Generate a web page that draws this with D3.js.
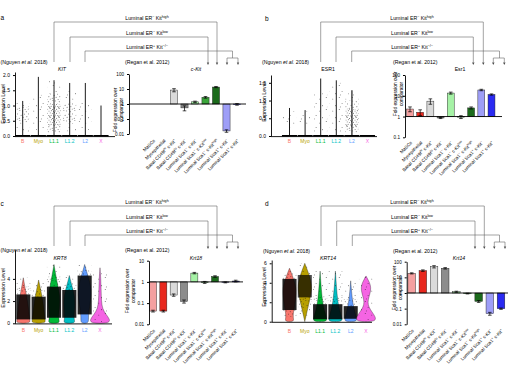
<!DOCTYPE html>
<html>
<head>
<meta charset="utf-8">
<script src="https://cdn.jsdelivr.net/npm/d3@7"></script>
<style>
  body { margin: 0; background: #fff; }
  svg text { font-family: "Liberation Sans", Arial, sans-serif; }
</style>
</head>
<body>
<svg id="fig" width="509" height="373"></svg>
<script>
// single cell clusters (Nguyen et al. 2018)
const scCats = ["B", "Myo", "L1.1", "L1.2", "L2", "X"];
const scColors = ["#F8766D", "#B79F00", "#00BA38", "#00BFC4", "#619CFF", "#F564E3"];

// sorted populations (Regan et al. 2012)
const popLabels = [
  "MaSCs", "Myoepithelial",
  "Basal CD49f^{hi} c-Kit^{+}", "Basal CD49f^{lo} c-Kit^{−}",
  "Luminal Sca1^{−} c-Kit^{−}", "Luminal Sca1^{−} c-Kit^{low}", "Luminal Sca1^{−} c-Kit^{high}",
  "Luminal Sca1^{+} c-Kit^{−}", "Luminal Sca1^{+} c-Kit^{+}"
];
const popColors = ["#F4A0A0", "#E8281E", "#DADADA", "#8C8C8C", "#A6F2A6", "#3AA53A", "#1C6B1C", "#9E9EF7", "#2A2AF2"];
const bracketLabels = ["Luminal ER^{−} Kit^{high}", "Luminal ER^{−} Kit^{low}", "Luminal ER^{+} Kit^{−/−}"];

// KIT / c-Kit
const kitTop = [1.15, 1.94, 1.83, 1.74, 1.74, 1.0];
// jitter bands per cluster: [from, to, density level]
const kitBands = [
  [[0.1, 0.45, 1], [0.45, 0.95, 2], [0.95, 1.12, 1]],
  [[0.2, 1.35, 1]],
  [[0.1, 0.35, 2], [0.35, 1.05, 3], [1.05, 1.4, 2], [1.4, 1.8, 1]],
  [[0.15, 0.4, 1], [0.4, 1.1, 2], [1.1, 1.5, 1]],
  [[0.2, 1.1, 1]],
  []
];
const ckitFold = [null, null, 8.5, 0.55, 1.4, 2.8, 13.5, 0.016, 0.95];
const ckitErr = [0, 0, 2.0, 0.2, 0.15, 0.35, 1.2, 0.003, 0.12];

// ESR1 / Esr1
const esr1Top = [0.79, 0.73, 1.62, 1.57, 1.29, 0];
const esr1Bands = [
  [[0.25, 0.7, 1]],
  [[0.3, 0.7, 1]],
  [[0.1, 1.2, 1]],
  [[0.1, 1.5, 1]],
  [[0.1, 0.25, 2], [0.25, 0.75, 3], [0.75, 1.0, 2], [1.0, 1.2, 1]],
  []
];
const esr1Fold = [2.3, 1.6, 5.5, 0.85, 13.5, 0.95, 2.6, 19, 11.5];
const esr1Err = [0.6, 0.5, 1.6, 0.05, 1.5, 0.15, 0.3, 1.5, 0.8];

// KRT8 / Krt18 ; violin outline = [value, relative width]
const krt8Violin = [
  [[0, 0], [0.05, 1], [0.3, 0.9], [1, 0.8], [2, 0.6], [3, 0.3], [4.1, 0]],
  [[0, 0], [0.05, 1], [0.3, 0.9], [1, 0.8], [2, 0.6], [3, 0.3], [3.9, 0]],
  [[0, 0], [0.05, 0.9], [0.4, 0.6], [1.5, 0.8], [2.5, 0.85], [3.5, 0.5], [5.3, 0]],
  [[0, 0], [0.05, 0.9], [0.4, 0.6], [1.5, 0.8], [2.5, 0.75], [3.3, 0.4], [4.3, 0]],
  [[0, 0], [0.05, 0.6], [0.6, 0.5], [1.5, 0.7], [2.5, 0.95], [3.5, 0.85], [4.5, 0.35], [5.3, 0]],
  [[0, 0], [0.05, 1.4], [0.4, 1.35], [0.8, 0.85], [1.3, 0.35], [2, 0.2], [3, 0.16], [4, 0.12], [5.0, 0]]
];
const krt8Bands = [
  [[0.35, 2.6, 4], [2.6, 3.3, 2], [3.3, 4.1, 1]],
  [[0.35, 2.4, 4], [2.4, 3.0, 2], [3.0, 3.9, 1]],
  [[0.5, 3.3, 4], [3.3, 4.2, 2], [4.2, 5.3, 1]],
  [[0.5, 3.0, 4], [3.0, 3.7, 2], [3.7, 4.3, 1]],
  [[0.8, 4.3, 4], [4.3, 4.8, 2], [4.8, 5.3, 1]],
  [[0.1, 4.5, 1]]
];
const krt18Fold = [0.042, 0.042, 0.24, 0.12, 2.6, 0.95, 1.8, 0.95, 1.1];
const krt18Err = [0.004, 0.004, 0.03, 0.02, 0.2, 0.1, 0.15, 0.05, 0.1];

// KRT14 / Krt14
const krt14Violin = [
  [[0, 0], [0.05, 0.7], [0.5, 0.45], [1.5, 0.7], [3, 1], [4, 0.8], [5.5, 0]],
  [[0, 0], [1, 0.3], [2.5, 0.8], [3.5, 1], [4.5, 0.8], [6, 0]],
  [[0, 0], [0.05, 1], [0.4, 0.9], [1, 0.7], [2, 0.3], [5.2, 0]],
  [[0, 0], [0.05, 1], [0.4, 0.9], [1, 0.7], [2, 0.3], [5.2, 0]],
  [[0, 0], [0.05, 0.9], [0.4, 0.8], [1, 0.6], [2, 0.25], [4.2, 0]],
  [[0, 0], [0.05, 1.4], [0.5, 1.35], [1, 0.85], [1.5, 0.4], [2, 0.25], [2.5, 0.4], [3.2, 0.7], [3.8, 0.65], [4.3, 0.3], [4.7, 0]]
];
const krt14Bands = [
  [[0.5, 1.2, 2], [1.2, 4.4, 4], [4.4, 5.0, 2], [5.0, 5.5, 1]],
  [[0.3, 1.5, 1], [1.5, 2.5, 2], [2.5, 4.8, 5], [4.8, 6, 1]],
  [[0.25, 1.8, 4], [1.8, 2.6, 2], [2.6, 5.2, 1]],
  [[0.25, 1.8, 4], [1.8, 2.6, 2], [2.6, 5.2, 1]],
  [[0.3, 1.6, 4], [1.6, 2.3, 2], [2.3, 4.2, 1]],
  [[0.1, 4.7, 1]]
];
const krt14Fold = [18, 27, 48, 38, 1.2, 0.92, 0.29, 0.048, 0.1];
const krt14Err = [1.5, 3, 8, 4, 0.1, 0.05, 0.04, 0.01, 0.01];

const svg = d3.select("#fig");
const defs = svg.append("defs");

// dot textures standing in for jittered cells
function dotPattern(id, w, h, dots) {
  const p = defs.append("pattern").attr("id", id)
    .attr("patternUnits", "userSpaceOnUse").attr("width", w).attr("height", h);
  dots.forEach(d => p.append("circle").attr("cx", d[0]).attr("cy", d[1]).attr("r", 0.45).attr("fill", "#111"));
}
dotPattern("p1", 13, 12, [[1.2, 1.5], [7.8, 3.1], [4.1, 7.4], [10.6, 9.8], [2.3, 10.9]]);
dotPattern("p2", 11, 10, [[0.7, 0.9], [4.2, 1.8], [8.9, 0.6], [2.4, 4.1], [6.6, 3.9], [10.1, 5.2],
  [1.1, 7.2], [4.9, 6.8], [8.2, 8.3], [3.1, 9.4], [6.2, 9.1]]);
dotPattern("p3", 9, 9, [[0.5, 0.6], [2.7, 1.2], [5.1, 0.4], [7.6, 1.5], [1.4, 2.9], [4.0, 3.1],
  [6.3, 2.7], [8.4, 3.6], [0.4, 4.8], [2.6, 5.3], [5.2, 4.9], [7.3, 5.6], [1.5, 7.1], [3.9, 7.5],
  [6.1, 7.2], [8.5, 7.9], [0.8, 8.7], [4.8, 8.6]]);
const bandFill = [null, "url(#p1)", "url(#p2)", "url(#p3)", "#000", "#000"];
const bandOpacity = [1, 1, 1, 1, 0.86, 0.7];

// text with ^{superscripts}
function rich(t, str, fs) {
  let up = false;
  str.split(/\^\{([^}]*)\}/).forEach((p, i) => {
    if (p === "") return;
    const sup = i % 2 === 1;
    const ts = t.append("tspan").text(p);
    if (sup) { ts.attr("font-size", fs * 0.7); if (!up) { ts.attr("dy", -fs * 0.4); up = true; } }
    else if (up) { ts.attr("dy", fs * 0.4); up = false; }
  });
  return t;
}

function label(x, y, str, fs, opts = {}) {
  const t = svg.append("text").attr("x", x).attr("y", y).attr("font-size", fs)
    .attr("text-anchor", opts.anchor || "start").attr("fill", opts.fill || "#000");
  if (opts.italic) t.attr("font-style", "italic");
  if (opts.rotate) t.attr("transform", `rotate(${opts.rotate},${x},${y})`);
  return rich(t, str, fs);
}

function refTitle(x, y) {
  svg.append("text").attr("x", x).attr("y", y).attr("font-size", 5.2)
    .html("(Nguyen <tspan font-style='italic'>et al.</tspan> 2018)");
}

function violinPanel(o) {
  const g = svg.append("g");
  const x = d3.scalePoint().domain(scCats).range(o.xr);
  const y = d3.scaleLinear().domain(o.yd).range(o.yr);
  const jw = x.step() * (o.violin ? 0.46 : 0.42);

  scCats.forEach((c, i) => {
    const cx = x(c);
    if (o.violin) {
      const area = d3.area().curve(d3.curveBasis)
        .y(d => y(d[0])).x0(d => cx - d[1] * jw).x1(d => cx + d[1] * jw);
      g.append("path").attr("d", area(o.violin[i])).attr("fill", scColors[i])
        .attr("stroke", "#000").attr("stroke-width", 0.3);
    } else if (o.top[i] > 0) {
      g.append("line").attr("x1", cx).attr("x2", cx).attr("y1", y(0)).attr("y2", y(o.top[i]))
        .attr("stroke", i === 4 && o.wideL2 ? "#555" : "#000").attr("stroke-width", i === 4 && o.wideL2 ? 1.6 : 0.9);
    }
    o.bands[i].forEach(b => {
      g.append("rect").attr("x", cx - jw).attr("width", 2 * jw)
        .attr("y", y(b[1])).attr("height", y(b[0]) - y(b[1]))
        .attr("fill", bandFill[b[2]]).attr("opacity", bandOpacity[b[2]]);
    });
    if (!o.violin) {
      g.append("rect").attr("x", cx - jw - 1).attr("width", 2 * jw + 2)
        .attr("y", y(0) - 1).attr("height", 1.6).attr("fill", "#000");
    }
    g.append("text").attr("x", cx).attr("y", o.labY).attr("text-anchor", "middle")
      .attr("font-size", 5).attr("fill", scColors[i]).text(c);
  });

  const ya = g.append("g").attr("transform", `translate(${o.ax},0)`)
    .call(d3.axisLeft(y).tickValues(o.ticks).tickFormat(o.fmt).tickSize(2).tickSizeOuter(0));
  ya.selectAll("text").attr("font-size", 5).attr("font-family", null);
  ya.select(".domain").attr("stroke-width", 0.9);
  g.append("line").attr("x1", o.ax).attr("x2", o.xEnd).attr("y1", y(0) + 0.6).attr("y2", y(0) + 0.6)
    .attr("stroke", "#000").attr("stroke-width", 0.9);

  label(o.ytX, o.ytY, "Expression Level", 5.2, { anchor: "middle", rotate: -90 });
}

function barPanel(o, vals, errs) {
  const g = svg.append("g");
  const x = d3.scalePoint().domain(d3.range(9)).range(o.cx);
  const y = d3.scaleLog().domain(o.yd).range(o.yr);
  const bw = x.step() * 0.68;

  vals.forEach((v, i) => {
    if (v == null) return;
    const cx = x(i), y1 = y(1), yv = y(v);
    g.append("rect").attr("x", cx - bw / 2).attr("width", bw)
      .attr("y", Math.min(y1, yv)).attr("height", Math.max(Math.abs(y1 - yv), 0.6))
      .attr("fill", popColors[i]).attr("stroke", "#222").attr("stroke-width", 0.45);
    const lo = y(v - errs[i]), hi = y(v + errs[i]);
    g.append("path").attr("d", `M${cx},${lo}V${hi}M${cx - 1.8},${lo}H${cx + 1.8}M${cx - 1.8},${hi}H${cx + 1.8}`)
      .attr("stroke", "#000").attr("stroke-width", 0.7).attr("fill", "none");
  });

  g.append("line").attr("x1", o.ax).attr("x2", o.xEnd).attr("y1", y(1)).attr("y2", y(1))
    .attr("stroke", "#000").attr("stroke-width", 0.9);
  const ya = g.append("g").attr("transform", `translate(${o.ax},0)`)
    .call(d3.axisLeft(y).tickValues(o.ticks).tickFormat(d => String(d)).tickSize(2).tickSizeOuter(0));
  ya.selectAll("text").attr("font-size", 4.6).attr("font-family", null);
  ya.select(".domain").attr("stroke-width", 0.9);

  o.labels.forEach((s, i) => label(x(i) + 2.5, o.labY, s, 4.6, { anchor: "end", rotate: -45 }));

  const t = svg.append("text").attr("transform", `translate(${o.ytX},${o.ytY}) rotate(-90)`)
    .attr("text-anchor", "middle").attr("font-size", 4.8);
  t.append("tspan").attr("x", 0).attr("dy", 0).text("Fold expression over");
  t.append("tspan").attr("x", 0).attr("dy", 5.6).text("comparator");
}

function brackets(o) {
  const g = svg.append("g").attr("fill", "none").attr("stroke", "#666").attr("stroke-width", 0.6);
  const tip = o.dy + 65, rows = [22, 37, 51].map(v => v + o.dy);
  o.l.forEach((l, k) => {
    const r = o.r[k], yy = rows[k];
    const end = k < 2 ? tip - 2.4 : o.dy + 58;
    g.append("path").attr("d", `M${l},${o.dy + 62}V${yy}H${r}V${end}`);
    label(o.tx, yy - 2, bracketLabels[k], 5.2, { anchor: "middle" });
  });
  const ends = [o.r[0], o.r[1], o.split[0], o.split[1]];
  g.append("path").attr("d", `M${o.split[0]},${tip - 2.4}V${o.dy + 58}H${o.split[1]}V${tip - 2.4}`);
  ends.forEach(e => svg.append("path").attr("d", `M${e - 1.2},${tip - 2.6}L${e + 1.2},${tip - 2.6}L${e},${tip}Z`).attr("fill", "#444"));
}

// ---- panel a ----
label(0.5, 20, "a", 6.5);
brackets({ dy: 0, tx: 147, l: [54, 70, 85], r: [217, 208, 232.5], split: [227, 238] });
refTitle(0.5, 64);
label(125, 64, "(Regan et al. 2012)", 5.2);
label(62, 71, "KIT", 5.2, { anchor: "middle", italic: true });
label(196, 71, "c-Kit", 5.2, { anchor: "middle", italic: true });
violinPanel({ xr: [22.7, 101], yd: [0, 2.1], yr: [136, 72], ax: 15, xEnd: 115, labY: 143,
  ticks: [0, 0.5, 1, 1.5, 2], fmt: d3.format(".1f"), top: kitTop, bands: kitBands, ytX: 4.8, ytY: 104 });
barPanel({ cx: [153, 237], yd: [0.01, 100], yr: [134, 74], ax: 129, xEnd: 246, labY: 141,
  ticks: [100, 10, 1, 0.1, 0.01], labels: popLabels, ytX: 117, ytY: 110 }, ckitFold, ckitErr);

// ---- panel b ----
label(265, 21, "b", 6.5);
brackets({ dy: 0, tx: 412, l: [320.7, 336, 351.7], r: [483.3, 473.3, 499.5], split: [493.3, 504.3] });
refTitle(262, 64);
label(393, 64, "(Regan et al. 2012)", 5.2);
label(328, 71, "ESR1", 5.2, { anchor: "middle" });
label(460, 71, "Esr1", 5.2, { anchor: "middle" });
violinPanel({ xr: [289.5, 367.5], yd: [0, 1.72], yr: [136, 75], ax: 271, xEnd: 377, labY: 143,
  ticks: [0, 0.5, 1, 1.5], fmt: d3.format(".1f"), top: esr1Top, bands: esr1Bands, wideL2: true, ytX: 266, ytY: 102 });
barPanel({ cx: [410, 491.5], yd: [0.1, 100], yr: [137.3, 75], ax: 405, xEnd: 502, labY: 143,
  ticks: [100, 10, 1, 0.1], labels: popLabels, ytX: 397, ytY: 94 }, esr1Fold, esr1Err);

// ---- panel c ----
label(0.5, 206, "c", 6.5);
brackets({ dy: 184, tx: 147, l: [54, 70, 85], r: [217, 208, 232.5], split: [227, 238] });
refTitle(0.5, 252);
label(125, 252, "(Regan et al. 2012)", 5.2);
label(60, 259.5, "KRT8", 5.2, { anchor: "middle", italic: true });
label(196, 259.5, "Krt18", 5.2, { anchor: "middle", italic: true });
violinPanel({ xr: [23.3, 100], yd: [0, 6.6], yr: [323.3, 250], ax: 15, xEnd: 112, labY: 332,
  ticks: [0, 2, 4], fmt: d3.format("d"), violin: krt8Violin, bands: krt8Bands, ytX: 4.8, ytY: 288 });
barPanel({ cx: [153, 235.7], yd: [0.01, 10], yr: [324.3, 260.7], ax: 149, xEnd: 243, labY: 331,
  ticks: [10, 1, 0.1, 0.01], labels: popLabels, ytX: 129, ytY: 291 }, krt18Fold, krt18Err);

// ---- panel d ----
label(265, 206, "d", 6.5);
brackets({ dy: 184, tx: 412, l: [321, 336.7, 352.3], r: [484.3, 475, 499.5], split: [494.3, 505] });
refTitle(263, 253);
label(393, 253, "(Regan et al. 2012)", 5.2);
label(328, 259.5, "KRT14", 5.2, { anchor: "middle", italic: true });
label(459, 259.5, "Krt14", 5.2, { anchor: "middle", italic: true });
violinPanel({ xr: [289.5, 366], yd: [0, 6.34], yr: [321.7, 260], ax: 271.7, xEnd: 372, labY: 333,
  ticks: [0, 2, 4, 6], fmt: d3.format("d"), violin: krt14Violin, bands: krt14Bands, ytX: 266, ytY: 287 });
barPanel({ cx: [411.7, 501], yd: [0.01, 100], yr: [324.3, 261.7], ax: 406.7, xEnd: 508, labY: 331,
  ticks: [100, 10, 1, 0.1, 0.01], labels: popLabels, ytX: 396, ytY: 288 }, krt14Fold, krt14Err);
</script>
</body>
</html>
